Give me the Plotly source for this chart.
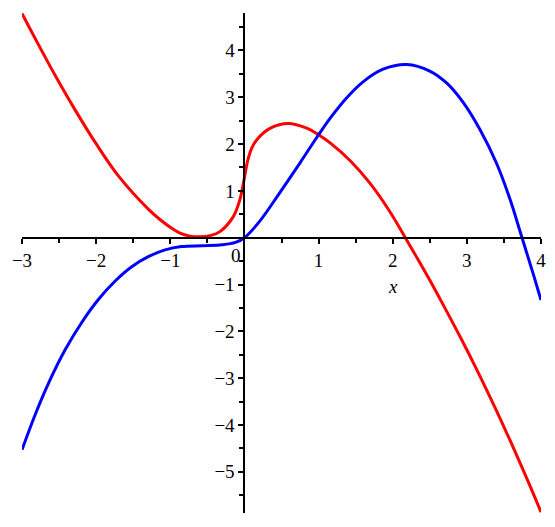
import plotly.graph_objects as go

# values
red_x = [-3.0, -2.78, -2.55, -2.28, -2.01, -1.70, -1.29, -1.14, -0.96, -0.87, -0.75,
         -0.60, -0.45, -0.33, -0.15, -0.06, 0.0, 0.04, 0.10, 0.17, 0.35, 0.59, 0.84, 1.0,
         1.16, 1.43, 1.69, 1.96, 2.17, 2.48, 2.71, 2.93, 3.15, 3.38, 3.60, 3.83, 4.0]
red_y = [4.79, 4.13, 3.46, 2.72, 2.03, 1.32, 0.60, 0.39, 0.18, 0.10, 0.04,
         0.02, 0.05, 0.13, 0.45, 0.82, 1.28, 1.62, 1.92, 2.10, 2.34, 2.44, 2.34, 2.20,
         2.02, 1.64, 1.17, 0.56, 0.0, -0.85, -1.52, -2.18, -2.87, -3.63, -4.39, -5.22, -5.86]

blue_x = [-3.0, -2.82, -2.64, -2.42, -2.19, -1.97, -1.74, -1.52, -1.29, -1.07, -0.85,
          -0.57, -0.30, -0.12, 0.0, 0.21, 0.48, 0.75, 1.0, 1.16, 1.38, 1.60, 1.87,
          2.19, 2.50, 2.73, 2.95, 3.18, 3.40, 3.58, 3.74, 3.90, 4.0]
blue_y = [-4.53, -3.77, -3.10, -2.40, -1.80, -1.32, -0.92, -0.62, -0.40, -0.26, -0.19,
          -0.17, -0.15, -0.10, 0.0, 0.36, 0.97, 1.60, 2.20, 2.56, 2.99, 3.33, 3.60,
          3.70, 3.56, 3.30, 2.89, 2.30, 1.59, 0.83, 0.02, -0.80, -1.33]

x_ticks = [-3, -2, -1, 1, 2, 3, 4]
x_labels = ['\u22123', '\u22122', '\u22121', '1', '2', '3', '4']
y_ticks = [-5, -4, -3, -2, -1, 1, 2, 3, 4]
y_labels = ['\u22125', '\u22124', '\u22123', '\u22122', '\u22121', '1', '2', '3', '4']

x_range = [-3, 4]
y_range = [-5.88, 4.80]

tick_font = dict(family='Liberation Serif, Times New Roman, serif', size=19, color='black')

fig = go.Figure()
fig.add_trace(go.Scatter(x=red_x, y=red_y, mode='lines',
                         line=dict(color='#ff0000', width=3, shape='spline')))
fig.add_trace(go.Scatter(x=blue_x, y=blue_y, mode='lines',
                         line=dict(color='#0000ff', width=3, shape='spline')))

# axes cross at the origin, like a Maple plot
xpos = (0 - y_range[0]) / (y_range[1] - y_range[0])
ypos = (0 - x_range[0]) / (x_range[1] - x_range[0])

fig.update_xaxes(range=x_range, anchor='free', position=xpos, showgrid=False, zeroline=False,
                 automargin=False, showline=True, linecolor='black', linewidth=2,
                 ticks='outside', ticklen=5, tickwidth=1.5, tickcolor='black',
                 tickmode='array', tickvals=x_ticks, ticktext=x_labels, tickfont=tick_font,
                 minor=dict(ticks='outside', tickmode='linear', tick0=0, dtick=0.5,
                            ticklen=4, tickwidth=1.5, tickcolor='black'))
fig.update_yaxes(range=y_range, anchor='free', position=ypos, side='left', showgrid=False,
                 zeroline=False, automargin=False, showline=True, linecolor='black',
                 linewidth=2, ticks='outside', ticklen=5, tickwidth=1.5, tickcolor='black',
                 tickmode='array', tickvals=y_ticks, ticktext=y_labels, tickfont=tick_font,
                 minor=dict(ticks='outside', tickmode='linear', tick0=0, dtick=0.5,
                            ticklen=4, tickwidth=1.5, tickcolor='black'))

fig.add_annotation(x=0, y=0, text='0', showarrow=False, xanchor='center', yanchor='top',
                   xshift=-8, yshift=-5, font=tick_font)
fig.add_annotation(x=2, y=0, text='<i>x</i>', showarrow=False, xanchor='center',
                   yanchor='middle', yshift=-49, font=tick_font)

# the page body adds an 8px margin, so the figure is a bit smaller than the window
fig.update_layout(width=547, height=519, autosize=False, showlegend=False,
                  margin=dict(l=14, r=14, t=5, b=14),
                  plot_bgcolor='white', paper_bgcolor='white')

fig.write_html('out.html')
